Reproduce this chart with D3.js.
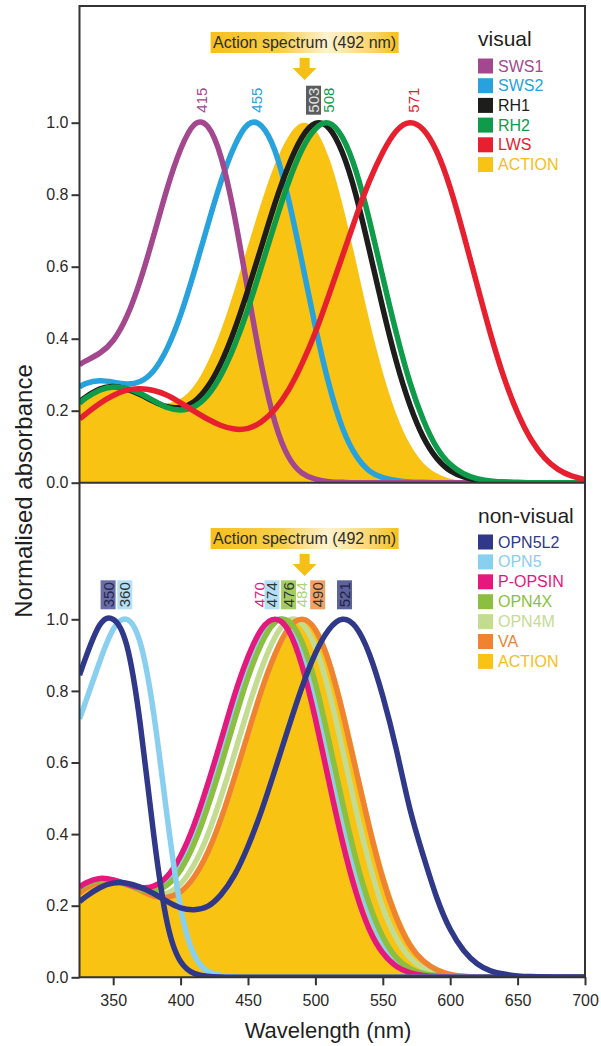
<!DOCTYPE html>
<html>
<head>
<meta charset="utf-8">
<script src="https://cdn.jsdelivr.net/npm/d3@7"></script>
<style>
body { margin: 0; background: #fff; }
svg { display: block; font-family: "Liberation Sans", Arial, Helvetica, sans-serif; }
</style>
</head>
<body>
<svg id="chart" width="601" height="1046"></svg>
<script>
// wavelength grid (nm), shared by every curve
var wavelengths = [325, 330, 340, 350, 360, 370, 380, 390, 400, 410, 420, 430, 440, 450, 460, 470, 480, 490, 500, 510,
                   520, 530, 540, 550, 560, 570, 580, 590, 600, 610, 620, 630, 640, 650, 660, 670, 680, 690, 700]

// visual opsins
var sws1 = [0.328, 0.339, 0.360, 0.395, 0.461, 0.561, 0.686, 0.817, 0.926, 0.994, 0.990, 0.904, 0.740, 0.531, 0.327, 0.168, 0.072, 0.027, 0.010, 0.003,
            0.001, 0, 0, 0, 0, 0, 0, 0, 0, 0, 0, 0, 0, 0, 0, 0, 0, 0, 0]
var sws2 = [0.266, 0.276, 0.283, 0.279, 0.274, 0.281, 0.311, 0.373, 0.466, 0.585, 0.714, 0.837, 0.935, 0.995, 0.991, 0.922, 0.788, 0.614, 0.433, 0.274,
            0.153, 0.076, 0.033, 0.014, 0.006, 0.002, 0.001, 0, 0, 0, 0, 0, 0, 0, 0, 0, 0, 0, 0]
var rh1  = [0.225, 0.239, 0.260, 0.267, 0.260, 0.245, 0.226, 0.211, 0.209, 0.225, 0.266, 0.333, 0.425, 0.536, 0.656, 0.776, 0.880, 0.959, 0.998, 0.985,
            0.917, 0.800, 0.646, 0.485, 0.337, 0.217, 0.127, 0.068, 0.033, 0.016, 0.007, 0.003, 0.001, 0, 0, 0, 0, 0, 0]
var rh2  = [0.221, 0.236, 0.257, 0.266, 0.262, 0.248, 0.228, 0.209, 0.202, 0.211, 0.242, 0.299, 0.381, 0.483, 0.601, 0.721, 0.834, 0.925, 0.983, 0.999,
            0.959, 0.867, 0.730, 0.571, 0.416, 0.280, 0.175, 0.098, 0.051, 0.025, 0.011, 0.005, 0.002, 0.001, 0, 0, 0, 0, 0]
var lws  = [0.177, 0.192, 0.220, 0.242, 0.257, 0.261, 0.256, 0.243, 0.222, 0.199, 0.177, 0.159, 0.149, 0.151, 0.169, 0.204, 0.257, 0.330, 0.418, 0.521,
            0.629, 0.737, 0.837, 0.918, 0.977, 1.000, 0.981, 0.920, 0.819, 0.689, 0.549, 0.412, 0.291, 0.194, 0.120, 0.069, 0.037, 0.019, 0.009]
var action = [0.233, 0.247, 0.265, 0.268, 0.260, 0.243, 0.227, 0.221, 0.233, 0.269, 0.334, 0.424, 0.536, 0.658, 0.779, 0.885, 0.962, 0.999, 0.980, 0.903,
              0.775, 0.616, 0.452, 0.307, 0.191, 0.108, 0.055, 0.026, 0.011, 0.005, 0.002, 0.001, 0, 0, 0, 0, 0, 0, 0]

// non-visual opsins
var opn5l2  = [0.844, 0.897, 0.984, 1.000, 0.928, 0.709, 0.400, 0.153, 0.044, 0.011, 0.003, 0.001, 0, 0, 0, 0, 0, 0, 0, 0,
               0, 0, 0, 0, 0, 0, 0, 0, 0, 0, 0, 0, 0, 0, 0, 0, 0, 0, 0]
var opn5l2b = [0.211, 0.226, 0.250, 0.263, 0.263, 0.252, 0.234, 0.212, 0.194, 0.189, 0.198, 0.231, 0.286, 0.366, 0.465, 0.579, 0.697, 0.810, 0.905, 0.971,
               1.000, 0.978, 0.903, 0.785, 0.637, 0.472, 0.340, 0.223, 0.134, 0.075, 0.038, 0.018, 0.009, 0.004, 0.002, 0.001, 0, 0, 0]
var opn5    = [0.722, 0.774, 0.882, 0.972, 1.000, 0.935, 0.738, 0.450, 0.195, 0.063, 0.017, 0.005, 0.001, 0, 0, 0, 0, 0, 0, 0,
               0, 0, 0, 0, 0, 0, 0, 0, 0, 0, 0, 0, 0, 0, 0, 0, 0, 0, 0]
var opn5b   = [0.249, 0.261, 0.273, 0.271, 0.259, 0.247, 0.246, 0.266, 0.313, 0.391, 0.494, 0.616, 0.742, 0.857, 0.948, 0.997, 0.988, 0.917, 0.789, 0.625,
               0.452, 0.299, 0.179, 0.096, 0.047, 0.021, 0.009, 0.003, 0.001, 0, 0, 0, 0, 0, 0, 0, 0, 0, 0]
var popsin  = [0.252, 0.264, 0.276, 0.272, 0.261, 0.251, 0.255, 0.282, 0.339, 0.426, 0.538, 0.662, 0.788, 0.895, 0.972, 1.000, 0.969, 0.871, 0.722, 0.548,
               0.380, 0.239, 0.134, 0.068, 0.031, 0.013, 0.005, 0.002, 0.001, 0, 0, 0, 0, 0, 0, 0, 0, 0, 0]
var opn4x   = [0.248, 0.260, 0.272, 0.271, 0.259, 0.246, 0.242, 0.258, 0.300, 0.373, 0.474, 0.592, 0.718, 0.838, 0.932, 0.991, 0.995, 0.937, 0.821, 0.661,
               0.490, 0.331, 0.204, 0.113, 0.055, 0.025, 0.011, 0.005, 0.002, 0.001, 0, 0, 0, 0, 0, 0, 0, 0, 0]
var opn4m   = [0.240, 0.253, 0.269, 0.270, 0.259, 0.243, 0.232, 0.235, 0.261, 0.315, 0.397, 0.504, 0.625, 0.750, 0.862, 0.950, 0.997, 0.988, 0.922, 0.799,
               0.639, 0.470, 0.319, 0.195, 0.110, 0.055, 0.026, 0.011, 0.005, 0.002, 0.001, 0, 0, 0, 0, 0, 0, 0, 0]
var va      = [0.235, 0.249, 0.266, 0.268, 0.259, 0.243, 0.227, 0.224, 0.239, 0.280, 0.348, 0.443, 0.558, 0.681, 0.801, 0.902, 0.974, 1.000, 0.971, 0.881,
               0.743, 0.580, 0.418, 0.275, 0.167, 0.090, 0.046, 0.021, 0.008, 0.003, 0.001, 0.001, 0, 0, 0, 0, 0, 0, 0]

var xTicks = [350, 400, 450, 500, 550, 600, 650, 700]
var yTicks = [0, 0.2, 0.4, 0.6, 0.8, 1.0]

var visualLegend = ["SWS1", "SWS2", "RH1", "RH2", "LWS", "ACTION"]
var nonVisualLegend = ["OPN5L2", "OPN5", "P-OPSIN", "OPN4X", "OPN4M", "VA", "ACTION"]

// peak labels and the wavelength each one is drawn at
var visualPeaks = ["415", "455", "503", "508", "571"]
var visualPeakAt = [415.7, 456.1, 498.6, 509.8, 572.9]
var nonVisualPeaks = ["350", "360", "470", "474", "476", "484", "490", "521"]
var nonVisualPeakAt = [346.2, 358.6, 458.3, 467.8, 480.1, 490.0, 501.7, 521.6]

var actionPeak = 492

var colors = {
  "SWS1": "#a3488f", "SWS2": "#27a2dc", "RH1": "#1d1d1b", "RH2": "#0e9c4b", "LWS": "#e6202e",
  "ACTION": "#f8c313",
  "OPN5L2": "#2f3889", "OPN5": "#89cff0", "P-OPSIN": "#e5187e", "OPN4X": "#8cbf3f",
  "OPN4M": "#c4dc92", "VA": "#ef8331"
}

var left = 79.5, right = 585, topY = 6, midY = 482.7, botY = 977.3

var x = d3.scaleLinear().domain([325, 700]).range([left, right])
var yTop = d3.scaleLinear().domain([0, 1]).range([midY, 122.7])
var yBot = d3.scaleLinear().domain([0, 1]).range([botY, 619.3])

var svg = d3.select("#chart")
var defs = svg.append("defs")

defs.append("clipPath").attr("id", "clipTop")
  .append("rect").attr("x", left).attr("y", topY).attr("width", right - left).attr("height", midY - topY)
defs.append("clipPath").attr("id", "clipBot")
  .append("rect").attr("x", left).attr("y", midY).attr("width", right - left).attr("height", botY - midY)

var grad = defs.append("linearGradient").attr("id", "boxGrad").attr("x1", 0).attr("x2", 1)
grad.append("stop").attr("offset", "0%").attr("stop-color", "#f6c01b")
grad.append("stop").attr("offset", "38%").attr("stop-color", "#f8cf4c")
grad.append("stop").attr("offset", "62%").attr("stop-color", "#fdf3d2")
grad.append("stop").attr("offset", "86%").attr("stop-color", "#f9d66a")
grad.append("stop").attr("offset", "100%").attr("stop-color", "#f6c01b")

function makeLine(y) {
  return d3.line()
    .x(function(d, i) { return x(wavelengths[i]) })
    .y(function(d) { return y(d) })
    .curve(d3.curveNatural)
}

function makeArea(y) {
  return d3.area()
    .x(function(d, i) { return x(wavelengths[i]) })
    .y0(y(0))
    .y1(function(d) { return y(d) })
    .curve(d3.curveNatural)
}

function drawPanel(clipId, y, curves) {
  var g = svg.append("g").attr("clip-path", "url(#" + clipId + ")")
  g.append("path").attr("d", makeArea(y)(action)).attr("fill", colors.ACTION)
  curves.forEach(function(c) {
    g.append("path")
      .attr("d", makeLine(y)(c.values))
      .attr("fill", "none")
      .attr("stroke", c.color)
      .attr("stroke-width", 5.5)
      .attr("stroke-linejoin", "round")
  })
}

drawPanel("clipTop", yTop, [
  {values: sws2, color: colors.SWS2},
  {values: sws1, color: colors.SWS1},
  {values: rh1, color: colors.RH1},
  {values: rh2, color: colors.RH2},
  {values: lws, color: colors.LWS}
])

drawPanel("clipBot", yBot, [
  {values: opn5b, color: colors.OPN5},
  {values: opn4m, color: colors.OPN4M},
  {values: va, color: colors.VA},
  {values: opn4x, color: colors.OPN4X},
  {values: popsin, color: colors["P-OPSIN"]},
  {values: opn5, color: colors.OPN5},
  {values: opn5l2, color: colors.OPN5L2},
  {values: opn5l2b, color: colors.OPN5L2}
])

// frame
var frame = svg.append("g").attr("stroke", "#333").attr("stroke-width", 2).attr("fill", "none")
frame.append("path").attr("d", "M" + left + "," + topY + "H" + right + "V" + botY + "H" + left + "Z")
frame.append("path").attr("d", "M" + left + "," + midY + "H" + right)

// axes
function styleAxis(g) {
  g.select(".domain").remove()
  g.selectAll(".tick line").attr("stroke", "#333").attr("stroke-width", 2)
  g.selectAll(".tick text").attr("fill", "#2a2a2a").style("font-size", "16px")
}

var fmt = d3.format(".1f")
svg.append("g").attr("transform", "translate(" + left + ",0)")
  .call(d3.axisLeft(yTop).tickValues(yTicks).tickFormat(fmt).tickSize(8).tickPadding(3))
  .call(styleAxis)
svg.append("g").attr("transform", "translate(" + left + ",0)")
  .call(d3.axisLeft(yBot).tickValues(yTicks).tickFormat(fmt).tickSize(8).tickPadding(3))
  .call(styleAxis)
svg.append("g").attr("transform", "translate(0," + botY + ")")
  .call(d3.axisBottom(x).tickValues(xTicks).tickSize(8).tickPadding(9))
  .call(styleAxis)

svg.append("text")
  .attr("transform", "translate(32,491) rotate(-90)")
  .attr("text-anchor", "middle")
  .attr("fill", "#1f1f1f")
  .style("font-size", "24px")
  .text("Normalised absorbance")

svg.append("text")
  .attr("x", 328).attr("y", 1038)
  .attr("text-anchor", "middle")
  .attr("fill", "#1f1f1f")
  .style("font-size", "22px")
  .text("Wavelength (nm)")

// action spectrum callout
function drawCallout(boxTop) {
  var cx = x(actionPeak)
  svg.append("rect")
    .attr("x", cx - 94).attr("y", boxTop).attr("width", 188).attr("height", 21)
    .attr("fill", "url(#boxGrad)")
  svg.append("text")
    .attr("x", cx).attr("y", boxTop + 16)
    .attr("text-anchor", "middle")
    .attr("fill", "#2d2d2d")
    .style("font-size", "16px")
    .text("Action spectrum (" + actionPeak + " nm)")
  var a = boxTop + 26
  svg.append("path")
    .attr("d", "M" + (cx - 5) + "," + a + "H" + (cx + 5) + "V" + (a + 10) + "H" + (cx + 12) +
               "L" + cx + "," + (a + 22) + "L" + (cx - 12) + "," + (a + 10) + "H" + (cx - 5) + "Z")
    .attr("fill", "#f6bf17")
}
drawCallout(32)
drawCallout(528)

// peak value labels, rotated
function drawPeakLabels(y, texts, at, styles, gap) {
  texts.forEach(function(t, i) {
    var s = styles[i]
    var g = svg.append("g")
      .attr("transform", "translate(" + x(at[i]) + "," + (y(1) - gap) + ") rotate(-90)")
    if (s.box) {
      g.append("rect").attr("x", -2).attr("y", -7.5).attr("width", 29).attr("height", 15).attr("fill", s.box)
    }
    g.append("text")
      .attr("x", 0).attr("y", 0)
      .attr("dominant-baseline", "central")
      .attr("fill", s.text)
      .style("font-size", "15px")
      .text(t)
  })
}

drawPeakLabels(yTop, visualPeaks, visualPeakAt, [
  {text: colors.SWS1},
  {text: colors.SWS2},
  {text: "#e4e4e4", box: "#5c5c5c"},
  {text: colors.RH2},
  {text: colors.LWS}
], 10)

drawPeakLabels(yBot, nonVisualPeaks, nonVisualPeakAt, [
  {text: "#24264d", box: "#6a6ea6"},
  {text: "#333", box: "#b3e0f5"},
  {text: colors["P-OPSIN"]},
  {text: "#333", box: "#b3e0f5"},
  {text: "#333", box: "#a2ce5f"},
  {text: "#b2d07f"},
  {text: "#333", box: "#f2a064"},
  {text: "#1f2147", box: "#5e629b"}
], 12)

// legends
function drawLegend(title, titleY, names, firstY, step) {
  svg.append("text")
    .attr("x", 478).attr("y", titleY)
    .attr("fill", "#1f1f1f")
    .style("font-size", "21px")
    .text(title)
  names.forEach(function(n, i) {
    var cy = firstY + i * step
    svg.append("rect")
      .attr("x", 478).attr("y", cy - 7.5).attr("width", 15).attr("height", 15)
      .attr("fill", colors[n])
    svg.append("text")
      .attr("x", 498).attr("y", cy)
      .attr("dominant-baseline", "central")
      .attr("fill", n == "ACTION" ? "#f5be18" : colors[n])
      .style("font-size", "16px")
      .text(n)
  })
}

drawLegend("visual", 46, visualLegend, 66, 19.7)
drawLegend("non-visual", 523, nonVisualLegend, 542, 19.9)
</script>
</body>
</html>
